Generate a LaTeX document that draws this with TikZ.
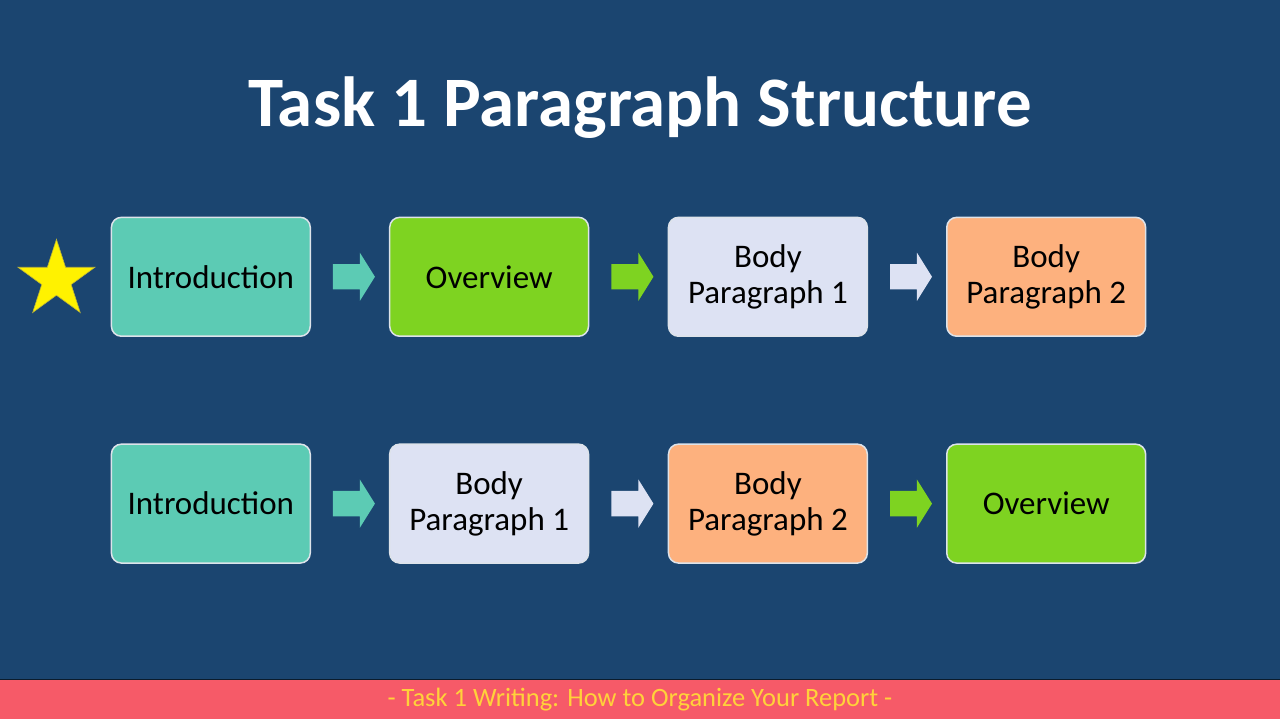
\documentclass[tikz,border=0pt]{standalone}
\usepackage{fontspec}
\setmainfont{Carlito}
\usetikzlibrary{shapes.geometric,shapes.arrows,calc}
\definecolor{bgblue}{HTML}{1B4570}
\definecolor{introcol}{HTML}{5CCBB4}
\definecolor{overcol}{HTML}{7ED321}
\definecolor{bodyone}{HTML}{DDE2F3}
\definecolor{bodytwo}{HTML}{FDB17E}
\definecolor{footcol}{HTML}{F65A68}
\definecolor{foottext}{HTML}{FFD23A}
\definecolor{staryel}{HTML}{FFF200}

\begin{document}
\begin{tikzpicture}[x=1pt,y=-1pt,
  box/.style={draw=white!85!bgblue,line width=1.5pt,rounded corners=10pt,
    minimum width=199pt,minimum height=119pt,align=center,text=black,
    font=\fontsize{33}{36}\selectfont},
  blockarrow/.style={single arrow,inner xsep=0pt,inner ysep=12.5pt,
    minimum height=42pt,single arrow head extend=11.5pt,
    single arrow tip angle=116,draw=none}]
\fill[bgblue] (0,0) rectangle (1280,720);
\fill[footcol] (0,680) rectangle (1280,720);
\draw[black!60!bgblue,line width=1pt] (0,680) -- (1280,680);
\node[text=white,font=\fontsize{71}{80}\selectfont\bfseries] (title) at (640,108) {Task 1 Paragraph Structure};
\node[text=foottext,font=\fontsize{26.5}{30}\selectfont] (footer) at (640,700) {- Task 1 Writing: How to Organize Your Report -};
\node[star,star points=5,star point ratio=2.618,minimum size=81pt,inner sep=0pt,
  fill=staryel,draw=yellow!70!black,line width=0.6pt] (star) at (56,280) {};
\node[box,fill=introcol] (intro1) at (210.5,277) {Introduction};
\node[box,fill=overcol] (over1) at (489,277) {Overview};
\node[box,fill=bodyone] (bodya1) at (768,277) {Body\\Paragraph 1};
\node[box,fill=bodytwo] (bodyb1) at (1046.5,277) {Body\\Paragraph 2};
\node[box,fill=introcol] (intro2) at (210.5,504) {Introduction};
\node[box,fill=bodyone] (bodya2) at (489,504) {Body\\Paragraph 1};
\node[box,fill=bodytwo] (bodyb2) at (768,504) {Body\\Paragraph 2};
\node[box,fill=overcol] (over2) at (1046.5,504) {Overview};
\node[blockarrow,fill=introcol] (arr1) at ($(intro1.east)!0.5!(over1.west)$) {};
\node[blockarrow,fill=overcol] (arr2) at ($(over1.east)!0.5!(bodya1.west)$) {};
\node[blockarrow,fill=bodyone] (arr3) at ($(bodya1.east)!0.5!(bodyb1.west)$) {};
\node[blockarrow,fill=introcol] (arr4) at ($(intro2.east)!0.5!(bodya2.west)$) {};
\node[blockarrow,fill=bodyone] (arr5) at ($(bodya2.east)!0.5!(bodyb2.west)$) {};
\node[blockarrow,fill=overcol] (arr6) at ($(bodyb2.east)!0.5!(over2.west)$) {};
\end{tikzpicture}
\end{document}
